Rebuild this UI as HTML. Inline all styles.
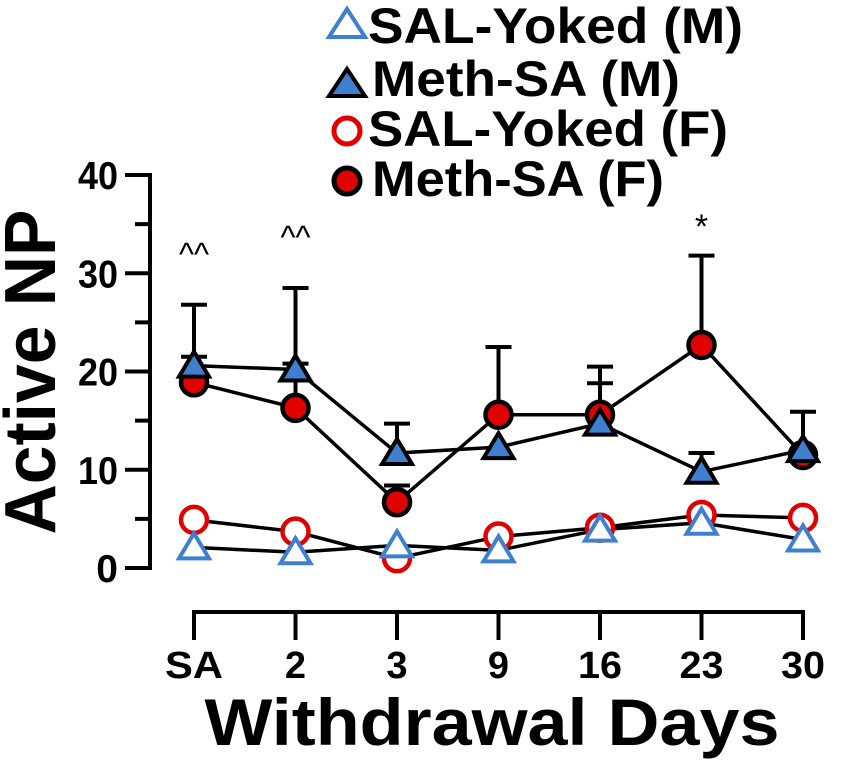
<!DOCTYPE html>
<html><head><meta charset="utf-8"><style>
html,body{margin:0;padding:0;background:#fff;}
svg{display:block;font-family:"Liberation Sans",Arial,sans-serif;}
</style></head><body>
<svg id="chart" width="846" height="772" viewBox="0 0 846 772">
<g id="legend">
  <g>
    <polygon points="347,9 365,37 329,37" fill="#fff" stroke="#3f7fd0" stroke-width="4"/>
    <text x="368" y="43" font-size="50" font-weight="bold" textLength="375" lengthAdjust="spacingAndGlyphs">SAL-Yoked (M)</text>
  </g>
  <g>
    <polygon points="347,69 365,96 329,96" fill="#3f7fd0" stroke="#000" stroke-width="4"/>
    <text x="372" y="96" font-size="50" font-weight="bold" textLength="308" lengthAdjust="spacingAndGlyphs">Meth-SA (M)</text>
  </g>
  <g>
    <circle cx="347" cy="131" r="13" fill="#fff" stroke="#e00000" stroke-width="5"/>
    <text x="368" y="146" font-size="50" font-weight="bold" textLength="360" lengthAdjust="spacingAndGlyphs">SAL-Yoked (F)</text>
  </g>
  <g>
    <circle cx="347" cy="181" r="13" fill="#e00000" stroke="#000" stroke-width="5"/>
    <text x="372" y="196" font-size="50" font-weight="bold" textLength="292" lengthAdjust="spacingAndGlyphs">Meth-SA (F)</text>
  </g>
</g>
<text transform="translate(55,372) rotate(-90)" text-anchor="middle" font-size="72" font-weight="bold" textLength="325" lengthAdjust="spacingAndGlyphs">Active NP</text>
<text x="492" y="745" text-anchor="middle" font-size="66" font-weight="bold" textLength="575" lengthAdjust="spacingAndGlyphs">Withdrawal Days</text>
<g id="axes"></g>
<g id="series"></g>
</svg>
<script>
const categories = ["SA","2","3","9","16","23","30"];
const yTicks = [0,10,20,30,40];
const yMinorTicks = [5,15,25,35];
const salYokedM = [2.1,1.6,2.3,1.8,3.9,4.6,2.9];
const methSaM = [20.6,20.2,11.7,12.3,14.7,9.8,12.0];
const methSaMErr = [0.9,0.6,3.0,0,4.1,1.9,3.9];
const salYokedF = [4.9,3.7,1.0,3.2,4.1,5.4,5.1];
const methSaF = [18.9,16.3,6.7,15.6,15.6,22.7,11.5];
const methSaFErr = [7.9,12.2,1.7,6.9,4.9,9.1,0];
const annotations = ["^^","^^","","","","*",""];

const NS = "http://www.w3.org/2000/svg";
function xPos(i){ return 194 + i*(803-194)/(categories.length-1); }
function yPos(v){ return 568 - v*(568-175)/40; }
function mk(tag, attrs, parent){ const e=document.createElementNS(NS,tag); for(const k in attrs) e.setAttribute(k,attrs[k]); parent.appendChild(e); return e; }

const axes = document.getElementById('axes');
const series = document.getElementById('series');

let yl = mk('line',{x1:150,y1:yPos(40),x2:150,y2:yPos(0),stroke:'#000','stroke-width':4},axes);


yTicks.forEach(v=>{
  const t = mk('line',{x1:125,y1:yPos(v),x2:152,y2:yPos(v),stroke:'#000','stroke-width':4},axes);
  
  
  const attrs = {x:118,y:yPos(v)+14,'text-anchor':'end','font-size':39,'font-weight':'bold'};
  if(String(v).length>1){ attrs.textLength=40; attrs.lengthAdjust='spacingAndGlyphs'; }
  const l = mk('text',attrs,axes);
  
  
  l.textContent = v;
});
yMinorTicks.forEach(v=>{
  const t = mk('line',{x1:135,y1:yPos(v),x2:152,y2:yPos(v),stroke:'#000','stroke-width':4},axes);
  
  
});
let xl = mk('line',{x1:xPos(0)-2,y1:612,x2:xPos(6)+2,y2:612,stroke:'#000','stroke-width':4},axes);


categories.forEach((c,i)=>{
  const t = mk('line',{x1:xPos(i),y1:612,x2:xPos(i),y2:640,stroke:'#000','stroke-width':4},axes);
  
  
  const attrs = {x:xPos(i),y:678,'text-anchor':'middle','font-size':38,'font-weight':'bold'};
  if(c.length>1){ attrs.textLength = c==='SA'?58:44; attrs.lengthAdjust='spacingAndGlyphs'; }
  const l = mk('text',attrs,axes);
  
  
  l.textContent = c;
  if(annotations[i]){
    const a = mk('text',{x:xPos(i),y:annotations[i]==='*'?238:(i===0?265:248),'text-anchor':'middle','font-size':annotations[i]==='*'?34:32},axes);
    
    
    a.textContent = annotations[i];
  }
});

function errBars(vals, errs, name){
  vals.forEach((v,i)=>{
    if(!errs[i]) return;
    const g = mk('g',{stroke:'#000','stroke-width':4},series);
    
    
    mk('line',{x1:xPos(i),y1:yPos(v),x2:xPos(i),y2:yPos(v+errs[i])},g);
    mk('line',{x1:xPos(i)-13,y1:yPos(v+errs[i]),x2:xPos(i)+13,y2:yPos(v+errs[i])},g);
  });
}
function line(vals, name){
  const p = mk('polyline',{points:vals.map((v,i)=>xPos(i)+','+yPos(v)).join(' '),fill:'none',stroke:'#000','stroke-width':3.5},series);
  
  
}
function tris(vals, fill, stroke, name){
  vals.forEach((v,i)=>{
    const x=xPos(i), y=yPos(v);
    const t = mk('polygon',{points:`${x},${y-14} ${x+15},${y+11} ${x-15},${y+11}`,fill:fill,stroke:stroke,'stroke-width':4},series);
    
    
  });
}
function circles(vals, fill, stroke, name){
  vals.forEach((v,i)=>{
    const c = mk('circle',{cx:xPos(i),cy:yPos(v),r:13,fill:fill,stroke:stroke,'stroke-width':4.5},series);
    
    
  });
}
errBars(methSaF, methSaFErr, 'error-bar-meth-sa-f');
errBars(methSaM, methSaMErr, 'error-bar-meth-sa-m');
line(salYokedF,'line-sal-yoked-f');
line(salYokedM,'line-sal-yoked-m');
line(methSaF,'line-meth-sa-f');
line(methSaM,'line-meth-sa-m');
circles(salYokedF,'#fff','#e00000','point-sal-yoked-f');
tris(salYokedM,'#fff','#3f7fd0','point-sal-yoked-m');
circles(methSaF,'#e00000','#000','point-meth-sa-f');
tris(methSaM,'#3f7fd0','#000','point-meth-sa-m');
</script>
</body></html>
